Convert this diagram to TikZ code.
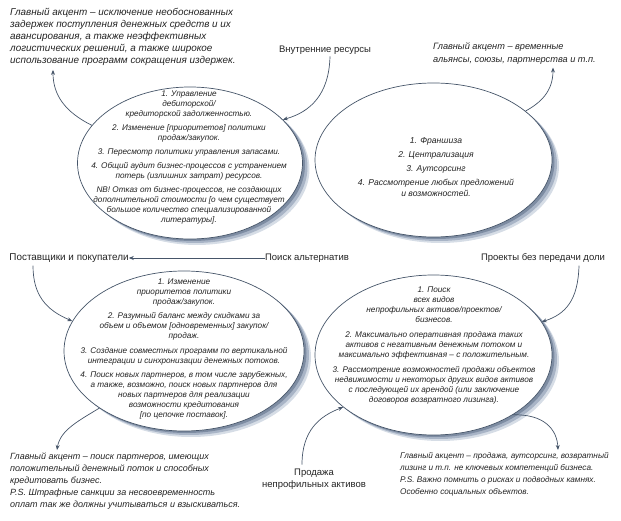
\documentclass[tikz,border=0pt]{standalone}
\usepackage{fontspec}
\setmainfont{Liberation Sans}
\usetikzlibrary{shapes.geometric,arrows.meta}
\definecolor{linegrey}{RGB}{70,85,105}
\definecolor{shadowdark}{RGB}{125,140,162}
\definecolor{shadowmid}{RGB}{168,180,198}
\definecolor{shadowlight}{RGB}{214,221,230}
\definecolor{textdark}{RGB}{35,35,35}

\begin{document}
\begin{tikzpicture}[x=1pt, y=-1pt,
    oval/.style={ellipse, draw=linegrey, line width=0.7pt, fill=white, inner sep=0pt},
    ovaltext/.style={font=\fontsize{8.2}{10}\selectfont\itshape, text=textdark,
        align=center, inner sep=0pt},
    note/.style={font=\fontsize{9}{12}\selectfont\itshape, text=textdark,
        align=left, anchor=west, inner sep=0pt},
    lbl/.style={font=\fontsize{9.5}{12}\selectfont, text=textdark, align=center, inner sep=0pt},
    arr/.style={-{Stealth[length=5pt,width=4pt]}, line width=0.7pt, linegrey}
]
    \useasboundingbox (0,0) rectangle (621,521);

    % shadows
    \foreach \cx/\cy/\rx/\ry in {190/163/112.5/76, 433.5/160/118.5/77, 184/351/120/80, 433.5/355/118.5/80} {
        \fill[shadowlight] (\cx+7,\cy+6) ellipse [x radius=\rx pt, y radius=\ry pt];
        \fill[shadowmid] (\cx+5,\cy+4) ellipse [x radius=\rx pt, y radius=\ry pt];
        \fill[shadowdark] (\cx+2.5,\cy+2) ellipse [x radius=\rx pt, y radius=\ry pt];
    }

    \node[oval, minimum width=225pt, minimum height=152pt] (tl) at (190,163) {};
    \node[oval, minimum width=237pt, minimum height=154pt] (tr) at (433.5,160) {};
    \node[oval, minimum width=240pt, minimum height=160pt] (bl) at (184,351) {};
    \node[oval, minimum width=237pt, minimum height=160pt] (br) at (433.5,355) {};

    \node[ovaltext] (tltext) at (189,158) {1. Управление\\дебиторской/\\кредиторской задолженностью.\\[4pt]
        2. Изменение [приоритетов] политики\\продаж/закупок.\\[4pt]
        3. Пересмотр политики управления запасами.\\[4pt]
        4. Общий аудит бизнес-процессов с устранением\\потерь (излишних затрат) ресурсов.\\[4pt]
        NB! Отказ от бизнес-процессов, не создающих\\дополнительной стоимости [о чем существует\\большое количество специализированной\\литературы].};
    \node[ovaltext, font=\fontsize{8.6}{11}\selectfont\itshape] (trtext) at (436,167)
        {1. Франшиза\\[3pt] 2. Централизация\\[3pt] 3. Аутсорсинг\\[3pt]
        4. Рассмотрение любых предложений\\и возможностей.};
    \node[ovaltext] (bltext) at (184,349) {1. Изменение\\приоритетов политики\\продаж/закупок.\\[4.5pt]
        2. Разумный баланс между скидками за\\объем и объемом [одновременных] закупок/\\продаж.\\[4.5pt]
        3. Создание совместных программ по вертикальной\\интеграции и синхронизации денежных потоков.\\[4.5pt]
        4. Поиск новых партнеров, в том числе зарубежных,\\а также, возможно, поиск новых партнеров для\\новых партнеров для реализации\\возможности кредитования\\{[}по цепочке поставок].};
    \node[ovaltext] (brtext) at (434,346) {1. Поиск\\всех видов\\непрофильных активов/проектов/\\бизнесов.\\[5pt]
        2. Максимально оперативная продажа таких\\активов с негативным денежным потоком и\\максимально эффективная – с положительным.\\[5pt]
        3. Рассмотрение возможностей продажи объектов\\недвижимости и некоторых других видов активов\\с последующей их арендой (или заключение\\договоров возвратного лизинга).};

    % Notes
    \node[note, font=\fontsize{9.9}{12}\selectfont\itshape] (tlnote) at (10,37) {Главный акцент – исключение необоснованных\\задержек поступления денежных средств и их\\авансирования, а также неэффективных\\логистических решений, а также широкое\\использование программ сокращения издержек.};
    \node[note, font=\fontsize{9.2}{13}\selectfont\itshape] (trnote) at (433,53.5) {Главный акцент – временные\\альянсы, союзы, партнерства и т.п.};
    \node[note] (blnote) at (10,481.5) {Главный акцент – поиск партнеров, имеющих\\положительный денежный поток и способных\\кредитовать бизнес.\\P.S. Штрафные санкции за несвоевременность\\оплат так же должны учитываться и взыскиваться.};
    \node[note, font=\fontsize{8.2}{12}\selectfont\itshape] (brnote) at (400,474) {Главный акцент – продажа, аутсорсинг, возвратный\\лизинг и т.п. не ключевых компетенций бизнеса.\\P.S. Важно помнить о рисках и подводных камнях.\\Особенно социальных объектов.};

    % Labels
    \node[lbl] (intres) at (325,50) {Внутренние ресурсы};
    \node[lbl, font=\fontsize{9.9}{12}\selectfont] (supp) at (69,258) {Поставщики и покупатели};
    \node[lbl] (search) at (307,258) {Поиск альтернатив};
    \node[lbl] (proj) at (543,258) {Проекты без передачи доли};
    \node[lbl] (sale) at (314,479) {Продажа\\непрофильных активов};

    \draw[arr] ([xshift=5pt,yshift=-2pt]intres.south) .. controls (329,95) and (310,112) .. (tl.25);
    \draw[arr] (tl.159) .. controls (65,112) and (53,95) .. ([xshift=43pt,yshift=-4pt]tlnote.south west);
    \draw[arr] (tr.28) .. controls (540,103) and (553,92) .. ([xshift=120pt,yshift=-3pt]trnote.south west);
    \draw[arr] (search) -- (supp);
    \draw[arr] ([xshift=-36pt,yshift=-3pt]supp.south) .. controls (33,295) and (46,310) .. (bl.165);
    \draw[arr] ([xshift=36pt,yshift=-3pt]proj.south) .. controls (578,300) and (566,314) .. (br.17);
    \draw[arr] (bl.214) .. controls (80,420) and (60,430) .. ([xshift=47pt,yshift=3pt]blnote.north west);
    \draw[arr] ([xshift=-12pt,yshift=4pt]sale.north) .. controls (302,430) and (320,416) .. (br.210);
    \draw[arr] (br.-37) .. controls (545,414) and (557,430) .. ([xshift=158pt,yshift=2pt]brnote.north west);
\end{tikzpicture}
\end{document}
